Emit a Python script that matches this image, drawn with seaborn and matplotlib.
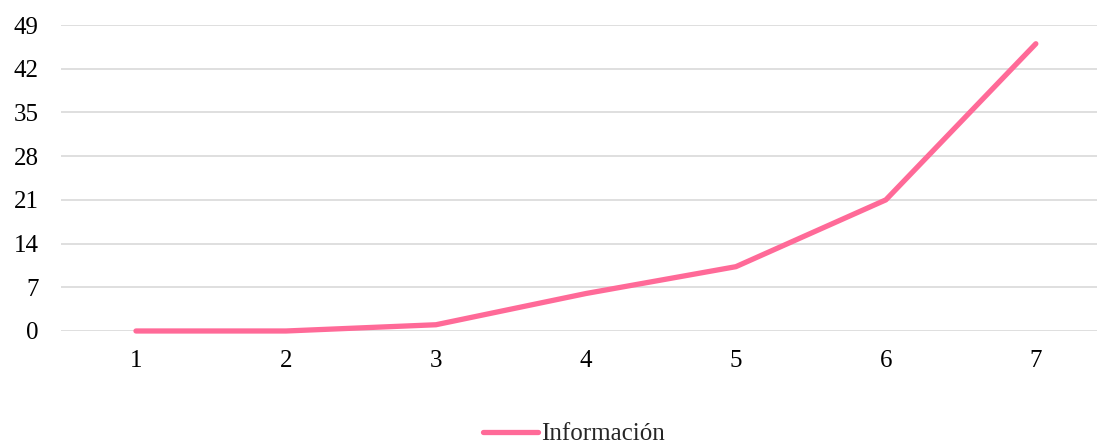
import pandas as pd
import matplotlib.pyplot as plt
import seaborn as sns

periods = [1, 2, 3, 4, 5, 6, 7]
informacion = [0, 0, 1, 6, 10.3, 21, 46]
y_ticks = [0, 7, 14, 21, 28, 35, 42, 49]

df = pd.DataFrame({'Periodo': periods, 'Información': informacion})

sns.set_style('white')
plt.rcParams['font.family'] = ['Liberation Serif', 'DejaVu Serif']

fig = plt.figure(figsize=(10.97, 4.45), dpi=100)
ax = fig.add_axes([0.0556, 0.2562, 0.957, 0.6876])

sns.lineplot(data=df, x='Periodo', y='Información', ax=ax, color='#FF6A98',
             linewidth=3.8, label='Información', legend=False,
             solid_capstyle='round', solid_joinstyle='round', clip_on=False)

ax.set_xlim(0.5, 7.5)
ax.set_ylim(0, 49)
ax.set_yticks(y_ticks)
ax.set_xticks(periods)
ax.set_xticklabels([str(p) for p in periods])
ax.yaxis.grid(True, color='#D9D9D9', linewidth=1.2)
ax.set_axisbelow(True)
for s in ax.spines.values():
    s.set_visible(False)
ax.tick_params(axis='both', length=0, labelsize=18, colors='#000000')
ax.tick_params(axis='y', pad=16)
ax.tick_params(axis='x', pad=14)
ax.set_xlabel('')
ax.set_ylabel('')

handles, labels = ax.get_legend_handles_labels()
fig.legend(handles, labels, loc='center', bbox_to_anchor=(574 / 1097, 1 - 434 / 445),
           frameon=False, fontsize=18, handlelength=2.2, handletextpad=0.15)

fig.savefig('out.png', dpi=100, facecolor='white')
